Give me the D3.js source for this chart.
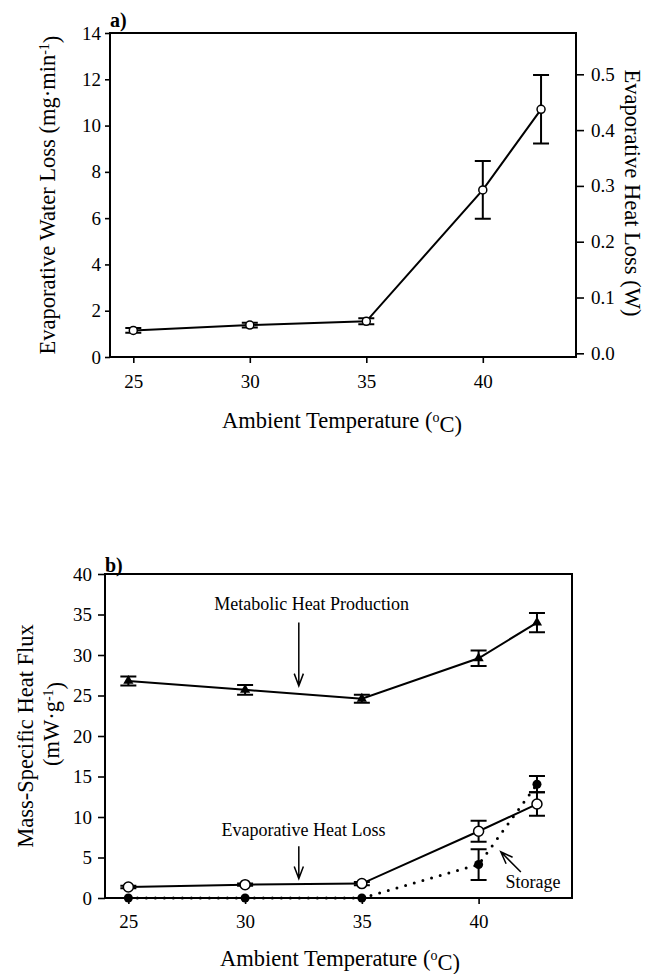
<!DOCTYPE html>
<html>
<head>
<meta charset="utf-8">
<script src="https://cdn.jsdelivr.net/npm/d3@7"></script>
<style>
  body { margin: 0; background: #fff; }
  svg { font-family: 'Liberation Serif', 'Times New Roman', serif; }
  .frame { fill: none; stroke: #000; stroke-width: 2; }
  .axis path { display: none; }
  .axis line { stroke: #000; stroke-width: 1.6; }
  .axis text { font-size: 19px; fill: #000; font-family: 'Liberation Serif', 'Times New Roman', serif; }
  .title { font-size: 22.5px; fill: #000; }
  .note { font-size: 18px; fill: #000; }
  .panel { font-size: 20px; font-weight: bold; }
</style>
</head>
<body>
<svg width="648" height="974"></svg>
<script>
// temperatures (deg C)
const temps = [25, 30, 35, 40, 42.5];
const xTicks = [25, 30, 35, 40];

// panel a: evaporative water loss, mg/min
const ewl = [1.15, 1.38, 1.54, 7.22, 10.7];
const ewlErr = [0.1, 0.1, 0.13, 1.25, 1.48];
const ewlTicks = [0, 2, 4, 6, 8, 10, 12, 14];
const wattTicks = [0, 0.1, 0.2, 0.3, 0.4, 0.5];

// panel b: mass-specific heat flux, mW/g
const metabolic = [26.8, 25.7, 24.6, 29.6, 34.0];
const metabolicErr = [0.55, 0.6, 0.5, 0.95, 1.2];
const evapHeat = [1.36, 1.65, 1.78, 8.24, 11.6];
const evapHeatErr = [0.15, 0.15, 0.2, 1.3, 1.45];
const storage = [0, 0, 0, 4.13, 14.05];
const storageErr = [0, 0, 0, 1.9, 1.0];
const fluxTicks = [0, 5, 10, 15, 20, 25, 30, 35, 40];

// annotation positions in data units of panel b
const notes = [
  { text: 'Metabolic Heat Production', x: 32.85, y: 35.5, anchor: 'middle' },
  { text: 'Evaporative Heat Loss', x: 32.5, y: 7.6, anchor: 'middle' },
  { text: 'Storage', x: 41.15, y: 1.24, anchor: 'start' }
];
const arrows = [
  { from: [32.3, 34.0], to: [32.3, 26.2] },
  { from: [32.3, 6.4], to: [32.3, 2.4] },
  { from: [41.81, 3.2], to: [40.95, 5.7] }
];

const svg = d3.select('svg');

// ---------- panel a ----------
const xA = d3.scaleLinear().domain([24, 44]).range([110, 576]);
const yA = d3.scaleLinear().domain([0, 14]).range([357, 33]);
const yA2 = d3.scaleLinear().domain([-0.0066, 0.574]).range([357, 33]);

const a = svg.append('g');

a.append('g').attr('class', 'axis')
  .attr('transform', 'translate(0,357)')
  .call(d3.axisBottom(xA).tickValues(xTicks).tickSize(6).tickPadding(12).tickFormat(d3.format('d')));

a.append('g').attr('class', 'axis')
  .attr('transform', 'translate(110,0)')
  .call(d3.axisLeft(yA).tickValues(ewlTicks).tickSize(5).tickPadding(4).tickFormat(d3.format('d')));

a.append('g').attr('class', 'axis')
  .attr('transform', 'translate(576,0)')
  .call(d3.axisRight(yA2).tickValues(wattTicks).tickSize(8).tickPadding(7).tickFormat(d3.format('.1f')));

a.append('rect').attr('class', 'frame')
  .attr('x', 110).attr('y', 33).attr('width', 466).attr('height', 324);

function errorBars(g, x, y, vals, errs, cap) {
  const rows = temps.map((t, i) => ({ t: t, v: vals[i], e: errs[i] })).filter(d => d.e > 0);
  g.selectAll(null).data(rows).enter().append('path')
    .attr('fill', 'none').attr('stroke', '#000').attr('stroke-width', 2)
    .attr('d', d => {
      const x0 = x(d.t), y1 = y(d.v + d.e), y2 = y(d.v - d.e);
      return `M${x0},${y1}V${y2}M${x0 - cap},${y1}H${x0 + cap}M${x0 - cap},${y2}H${x0 + cap}`;
    });
}

function seriesLine(g, x, y, vals) {
  return g.append('path')
    .datum(temps.map((t, i) => [t, vals[i]]))
    .attr('fill', 'none').attr('stroke', '#000').attr('stroke-width', 2)
    .attr('d', d3.line().x(d => x(d[0])).y(d => y(d[1])));
}

seriesLine(a, xA, yA, ewl);
errorBars(a, xA, yA, ewl, ewlErr, 8);
a.selectAll(null).data(temps).enter().append('circle')
  .attr('cx', d => xA(d)).attr('cy', (d, i) => yA(ewl[i])).attr('r', 4)
  .attr('fill', '#fff').attr('stroke', '#000').attr('stroke-width', 1.5);

a.append('text').attr('class', 'panel').attr('x', 110).attr('y', 27).text('a)');

// y title left
const ta = a.append('text').attr('class', 'title')
  .attr('transform', 'translate(55,195) rotate(-90)').attr('text-anchor', 'middle');
ta.append('tspan').text('Evaporative Water Loss (mg\u00b7min');
ta.append('tspan').attr('dy', '-0.45em').attr('font-size', '14px').text('-1');
ta.append('tspan').attr('dy', '0.45em').text(')');

// y title right
a.append('text').attr('class', 'title')
  .attr('transform', 'translate(625,193) rotate(90)').attr('text-anchor', 'middle')
  .text('Evaporative Heat Loss (W)');

function xTitle(g, cx, cy) {
  const t = g.append('text').attr('class', 'title').attr('x', cx).attr('y', cy).attr('text-anchor', 'middle');
  t.append('tspan').text('Ambient Temperature (');
  t.append('tspan').attr('dy', '-0.45em').attr('font-size', '14px').text('o');
  t.append('tspan').attr('dy', '0.45em').text('C)');
}
xTitle(a, 342, 428);

// ---------- panel b ----------
const xB = d3.scaleLinear().domain([24, 44]).range([105, 572]);
const yB = d3.scaleLinear().domain([0, 40]).range([898, 574]);

const b = svg.append('g');

b.append('g').attr('class', 'axis')
  .attr('transform', 'translate(0,898)')
  .call(d3.axisBottom(xB).tickValues(xTicks).tickSize(6).tickPadding(11).tickFormat(d3.format('d')));

b.append('g').attr('class', 'axis')
  .attr('transform', 'translate(105,0)')
  .call(d3.axisLeft(yB).tickValues(fluxTicks).tickSize(7).tickPadding(6).tickFormat(d3.format('d')));

b.append('rect').attr('class', 'frame')
  .attr('x', 105).attr('y', 574).attr('width', 467).attr('height', 324);

// storage dotted line
seriesLine(b, xB, yB, storage)
  .attr('stroke-width', 3).attr('stroke-linecap', 'round').attr('stroke-dasharray', '0,9');
seriesLine(b, xB, yB, metabolic);
seriesLine(b, xB, yB, evapHeat);

errorBars(b, xB, yB, metabolic, metabolicErr, 8);
errorBars(b, xB, yB, evapHeat, evapHeatErr, 8);
errorBars(b, xB, yB, storage, storageErr, 8);

b.selectAll(null).data(temps).enter().append('path')
  .attr('transform', (d, i) => `translate(${xB(d)},${yB(metabolic[i])})`)
  .attr('d', d3.symbol(d3.symbolTriangle, 45))
  .attr('fill', '#000');

b.selectAll(null).data(temps).enter().append('circle')
  .attr('cx', d => xB(d)).attr('cy', (d, i) => yB(storage[i])).attr('r', 4.5)
  .attr('fill', '#000');

b.selectAll(null).data(temps).enter().append('circle')
  .attr('cx', d => xB(d)).attr('cy', (d, i) => yB(evapHeat[i])).attr('r', 5)
  .attr('fill', '#fff').attr('stroke', '#000').attr('stroke-width', 1.5);

// annotations
b.selectAll(null).data(notes).enter().append('text')
  .attr('class', 'note')
  .attr('x', d => xB(d.x)).attr('y', d => yB(d.y))
  .attr('text-anchor', d => d.anchor)
  .text(d => d.text);

b.selectAll(null).data(arrows).enter().append('path')
  .attr('fill', 'none').attr('stroke', '#000').attr('stroke-width', 1.5)
  .attr('d', d => {
    const x1 = xB(d.from[0]), y1 = yB(d.from[1]);
    const x2 = xB(d.to[0]), y2 = yB(d.to[1]);
    const ang = Math.atan2(y1 - y2, x1 - x2);
    const len = 13, spread = 0.36;
    const p1 = [x2 + len * Math.cos(ang - spread), y2 + len * Math.sin(ang - spread)];
    const p2 = [x2 + len * Math.cos(ang + spread), y2 + len * Math.sin(ang + spread)];
    return `M${x1},${y1}L${x2},${y2}M${p1[0]},${p1[1]}L${x2},${y2}L${p2[0]},${p2[1]}`;
  });

b.append('text').attr('class', 'panel').attr('x', 105).attr('y', 572).text('b)');

// y title, two lines
b.append('text').attr('class', 'title')
  .attr('transform', 'translate(33,736) rotate(-90)').attr('text-anchor', 'middle')
  .text('Mass-Specific Heat Flux');
const tb = b.append('text').attr('class', 'title')
  .attr('transform', 'translate(59,724) rotate(-90)').attr('text-anchor', 'middle');
tb.append('tspan').text('(mW\u00b7g');
tb.append('tspan').attr('dy', '-0.45em').attr('font-size', '14px').text('-1');
tb.append('tspan').attr('dy', '0.45em').text(')');

xTitle(b, 340, 966);
</script>
</body>
</html>
